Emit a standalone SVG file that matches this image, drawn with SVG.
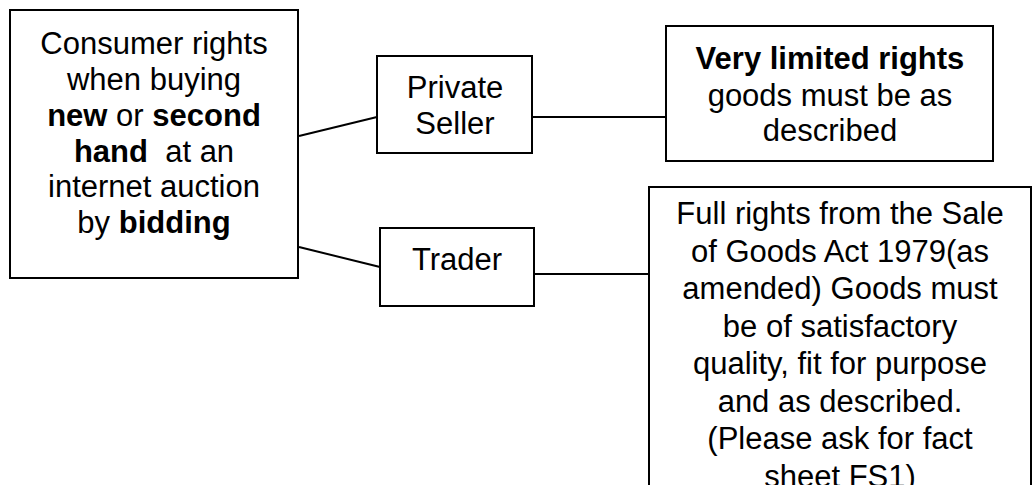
<svg xmlns="http://www.w3.org/2000/svg" width="1033" height="485" viewBox="0 0 1033 485">
<style>
.box{fill:#fff;stroke:#000;stroke-width:2}
.conn line{stroke:#000;stroke-width:2}
text{font-family:"Liberation Sans",Arial,sans-serif;font-size:31px;fill:#000;text-anchor:middle}
.b{font-weight:bold}
</style>
<rect width="1033" height="485" fill="#fff"/>
<g class="conn">
<line x1="299" y1="136" x2="377" y2="117"/>
<line x1="299" y1="247" x2="380" y2="267"/>
<line x1="532" y1="117" x2="666" y2="117"/>
<line x1="534" y1="274" x2="649" y2="274"/>
</g>
<g id="consumer">
<rect class="box" x="10" y="10" width="288" height="268"/>
<text x="154" y="54">Consumer rights</text>
<text x="154" y="90">when buying</text>
<text x="154" y="126"><tspan class="b">new</tspan> or <tspan class="b">second</tspan></text>
<text x="154" y="162" xml:space="preserve"><tspan class="b">hand</tspan>  at an</text>
<text x="154" y="197">internet auction</text>
<text x="154" y="233">by <tspan class="b">bidding</tspan></text>
</g>
<g id="private">
<rect class="box" x="377" y="56" width="155" height="97"/>
<text x="455" y="98">Private</text>
<text x="455" y="134">Seller</text>
</g>
<g id="trader">
<rect class="box" x="380" y="228" width="154" height="78"/>
<text x="457" y="270">Trader</text>
</g>
<g id="limited">
<rect class="box" x="666" y="26" width="327" height="135"/>
<text x="830" y="69" class="b">Very limited rights</text>
<text x="830" y="106">goods must be as</text>
<text x="830" y="141">described</text>
</g>
<g id="full">
<rect class="box" x="649" y="187" width="382" height="320"/>
<text x="840" y="224">Full rights from the Sale</text>
<text x="840" y="261.5">of Goods Act 1979(as</text>
<text x="840" y="299">amended) Goods must</text>
<text x="840" y="336.5">be of satisfactory</text>
<text x="840" y="374">quality, fit for purpose</text>
<text x="840" y="411.5">and as described.</text>
<text x="840" y="449">(Please ask for fact</text>
<text x="840" y="486.5">sheet FS1)</text>
</g>
</svg>
